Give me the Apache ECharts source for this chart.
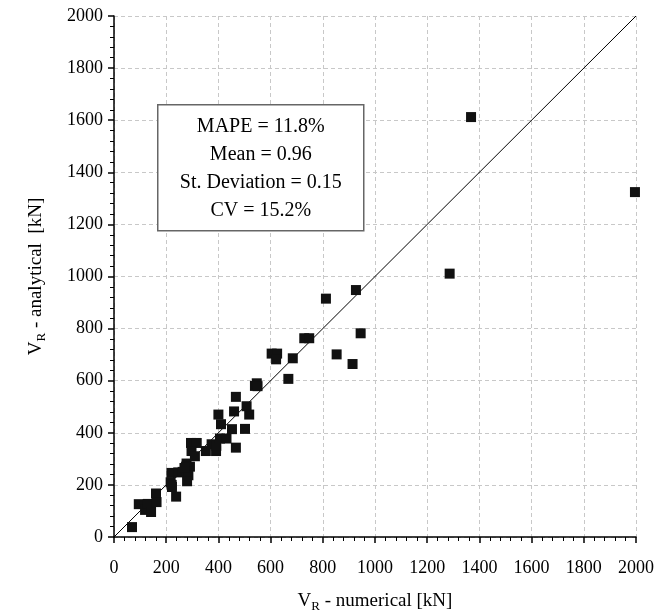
<!DOCTYPE html>
<html><head><meta charset="utf-8">
<script src="https://cdn.jsdelivr.net/npm/echarts@6/dist/echarts.min.js"></script>
<style>html,body{margin:0;padding:0;background:#fff}#c{width:672px;height:615px}</style>
</head><body><div id="c"></div>
<script>
const numerical = [69,95,119,129,142,161,163,217,221,220,246,238,222,263,276,278,291,278,285,280,270,295,317,297,310,352,374,391,392,400,410,406,431,452,467,467,460,502,508,518,540,547,550,604,625,621,668,685,729,748,812,853,914,927,945,1286,1368,1996];
const analytical = [38,126,104,127,96,167,134,210,200,246,248,155,192,250,270,282,270,250,237,214,265,361,361,330,310,330,356,330,350,470,433,378,378,414,343,538,482,415,502,470,580,590,579,704,704,682,607,686,763,763,915,701,664,948,782,1011,1612,1324];
const refLine = [[0,0],[2000,2000]];
const statsText = ['MAPE = 11.8%','Mean = 0.96','St. Deviation = 0.15','CV = 15.2%'];
const axisMin = 0, axisMax = 2000, axisStep = 200;

const FONT = 'Liberation Serif';
const chart = echarts.init(document.getElementById('c'));
const axisCommon = {
  min: axisMin, max: axisMax, interval: axisStep,
  axisLine: {show: true, lineStyle: {color: '#000', width: 1.5}},
  axisTick: {show: true, length: 6, lineStyle: {color: '#000', width: 1.5}},
  minorTick: {show: true, splitNumber: 5, length: 4, lineStyle: {color: '#000', width: 1}},
  splitLine: {show: true, lineStyle: {color: '#c8c8c8', type: [4,3], width: 1}},
  axisLabel: {color: '#000', fontFamily: FONT, fontSize: 18, formatter: v => String(v)},
  nameTextStyle: {color: '#000', fontFamily: FONT, fontSize: 18},
};
const rich = {
  v: {fontFamily: FONT, fontSize: 19, color: '#000'},
  s: {fontFamily: FONT, fontSize: 13, color: '#000', verticalAlign: 'bottom', padding: [10,0,0,0]}
};
chart.setOption({
  animation: false,
  grid: {left: 114, right: 36, top: 16, bottom: 78, containLabel: false, outerBoundsMode: 'none'},
  xAxis: Object.assign({}, axisCommon, {
    type: 'value',
    axisLabel: Object.assign({}, axisCommon.axisLabel, {margin: 22}),
    name: '{v|V}{s|R}{v| - numerical [kN]}',
    nameLocation: 'middle', nameGap: 53,
    nameTextStyle: {rich: rich}
  }),
  yAxis: Object.assign({}, axisCommon, {
    type: 'value',
    axisLabel: Object.assign({}, axisCommon.axisLabel, {margin: 11}),
    name: '{v|V}{s|R}{v| - analytical  [kN]}',
    nameLocation: 'middle', nameGap: 66,
    nameTextStyle: {rich: rich}
  }),
  series: [
    {type: 'line', data: refLine, symbol: 'none', lineStyle: {color: '#000', width: 1}, silent: true, z: 2},
    {type: 'scatter', data: numerical.map((x,i)=>[x, analytical[i]]), symbol: 'rect', symbolSize: 10,
     itemStyle: {color: '#111', opacity: 1}, z: 3}
  ],
  graphic: [{
    type: 'group', left: 157, top: 104, z: 100,
    children: [
      {type: 'rect', z: 100, shape: {x: 0, y: 0, width: 206, height: 126},
       style: {fill: '#fff', stroke: '#666', lineWidth: 1.5}},
      ...statsText.map((t,i)=>({type: 'text', z: 101, x: 103, y: 22 + i*28,
        style: {text: t, fill: '#000', font: '20px "Liberation Serif"', textAlign: 'center', textVerticalAlign: 'middle'}}))
    ]
  }]
});
</script></body></html>
